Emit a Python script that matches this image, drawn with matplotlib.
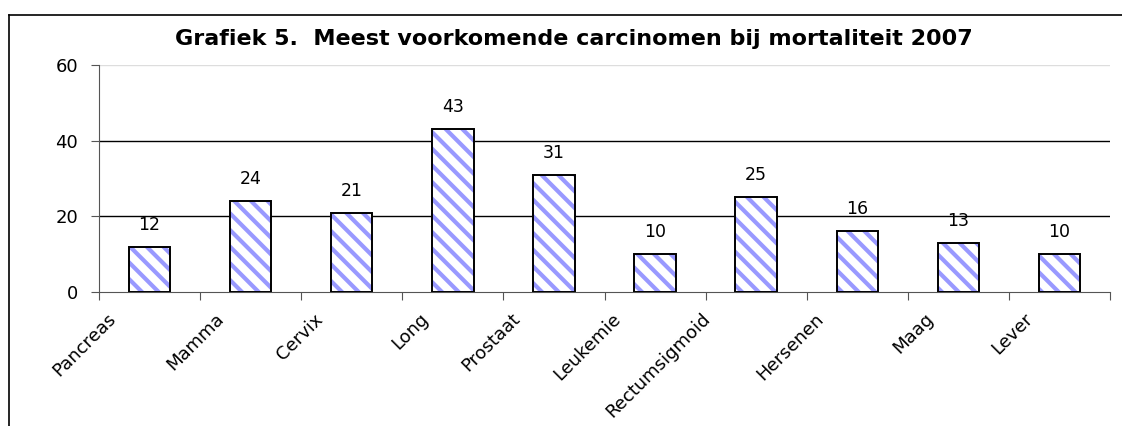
import matplotlib.pyplot as plt

plt.rcParams['font.family'] = ['DejaVu Sans']
plt.rcParams['hatch.linewidth'] = 3.0

categories = ['Pancreas', 'Mamma', 'Cervix', 'Long', 'Prostaat', 'Leukemie',
              'Rectumsigmoid', 'Hersenen', 'Maag', 'Lever']
values = [12, 24, 21, 43, 31, 10, 25, 16, 13, 10]
yticks = [0, 20, 40, 60]
title = 'Grafiek 5.  Meest voorkomende carcinomen bij mortaliteit 2007'

W, H = 1122, 426
fig = plt.figure(figsize=(W / 100, H / 100), dpi=100)
ax = fig.add_axes([99 / W, 1 - 292 / H, 1011 / W, 227 / H])

x = range(len(categories))
# hatch in light blue, outline in black
ax.bar(x, values, width=0.41, color='white', edgecolor='#9999ff',
       linewidth=0, hatch='\\\\', zorder=3)
ax.bar(x, values, width=0.41, fill=False, edgecolor='black',
       linewidth=1.4, zorder=4)
for xi, v in zip(x, values):
    ax.annotate(str(v), xy=(xi, v), xytext=(0, 22), textcoords='offset pixels',
                ha='center', va='center', fontsize=12.5)

ax.set_xlim(-0.5, len(categories) - 0.5)
ax.set_ylim(0, 60)
ax.set_yticks(yticks)
ax.tick_params(axis='y', labelsize=13, length=6, width=0.8, color='#555555', pad=9)
for t in [20, 40]:
    ax.axhline(t, color='black', linewidth=1.0, zorder=1)
ax.axhline(60, color='#dddddd', linewidth=1.0, zorder=1)

ax.set_xticks([i - 0.5 for i in range(len(categories) + 1)])
ax.set_xticklabels([])
ax.tick_params(axis='x', length=6, width=0.8, color='#555555', direction='out')
# rotated labels: longer names sit further to the left, like Excel does
for i, c in enumerate(categories):
    ax.annotate(c, xy=(i, 0), xycoords=('data', 'axes fraction'),
                xytext=(-(24 + 2.4 * len(c)), -18), textcoords='offset pixels',
                rotation=45, ha='right', va='top', rotation_mode='anchor',
                fontsize=13)

for s in ['top', 'right']:
    ax.spines[s].set_visible(False)
ax.spines['left'].set_color('#555555')
ax.spines['bottom'].set_color('#555555')

fig.text(574 / W, 1 - 39 / H, title, ha='center', va='center',
         fontsize=16, fontweight='bold')

# outer frame of the chart area
fig.add_artist(plt.Line2D([8.5 / W, 1], [1 - 15 / H, 1 - 15 / H], color='black', linewidth=1.2))
fig.add_artist(plt.Line2D([8.5 / W, 8.5 / W], [0, 1 - 15 / H], color='black', linewidth=1.2))

fig.savefig('out.png', dpi=100)
